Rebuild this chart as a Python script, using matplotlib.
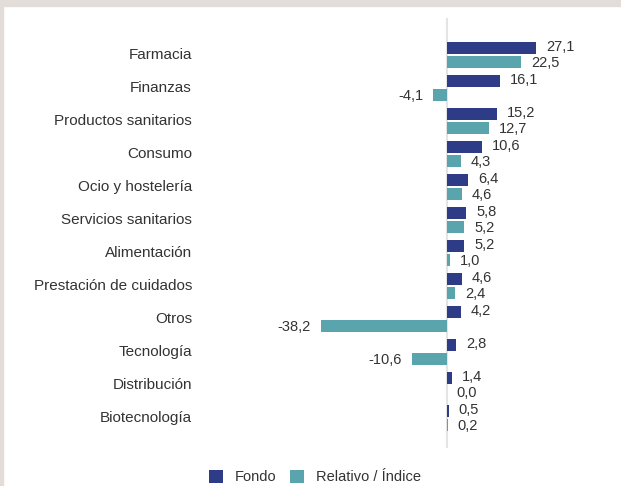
import matplotlib.pyplot as plt
from matplotlib.patches import Rectangle
import numpy as np

categorias = [
    "Farmacia", "Finanzas", "Productos sanitarios", "Consumo",
    "Ocio y hostelería", "Servicios sanitarios", "Alimentación",
    "Prestación de cuidados", "Otros", "Tecnología", "Distribución",
    "Biotecnología",
]
fondo = [27.1, 16.1, 15.2, 10.6, 6.4, 5.8, 5.2, 4.6, 4.2, 2.8, 1.4, 0.5]
relativo = [22.5, -4.1, 12.7, 4.3, 4.6, 5.2, 1.0, 2.4, -38.2, -10.6, 0.0, 0.2]

AZUL = "#2e3b87"
TURQUESA = "#5aa4ad"
TEXTO = "#333333"

plt.rcParams["font.family"] = ["Liberation Sans", "DejaVu Sans"]

fig = plt.figure(figsize=(6.21, 4.86), dpi=100)
fig.patch.set_facecolor("white")
# marco gris arriba y a la izquierda
fig.patches.append(Rectangle((0, 1 - 6 / 486), 1, 6 / 486, transform=fig.transFigure,
                             color="#e2ddd8", zorder=0))
fig.patches.append(Rectangle((0, 0), 3 / 621, 1, transform=fig.transFigure,
                             color="#e2ddd8", zorder=0))

ax = fig.add_axes([210 / 621, 38 / 486, 400 / 621, 430 / 486])
y = np.arange(len(categorias))
alto = 0.37
ax.barh(y - 0.21, fondo, height=alto, color=AZUL, label="Fondo", zorder=2)
ax.barh(y + 0.21, relativo, height=alto, color=TURQUESA, label="Relativo / Índice", zorder=2)

def etiqueta(v, pos):
    txt = f"{v:.1f}".replace(".", ",")
    if v < 0:
        ax.text(v - 3.0, pos, txt, ha="right", va="center", fontsize=10.5, color=TEXTO)
    else:
        ax.text(v + 3.0, pos, txt, ha="left", va="center", fontsize=10.5, color=TEXTO)

for i in range(len(categorias)):
    etiqueta(fondo[i], y[i] - 0.23)
    etiqueta(relativo[i], y[i] + 0.23)

ax.axvline(0, color="#e4e4e4", lw=1.5, zorder=1)
ax.set_xlim(-71.8, 49.4)
ax.set_ylim(11.91, -1.12)
ax.set_yticks(y - 0.03)
ax.set_yticklabels(categorias, fontsize=11, color=TEXTO)
ax.tick_params(axis="y", length=0, pad=13)
ax.set_xticks([])
for s in ax.spines.values():
    s.set_visible(False)

fig.legend(loc="center", bbox_to_anchor=(315 / 621, 1 - 477 / 486), ncol=2,
           frameon=False, fontsize=10.5, handlelength=1.0, handleheight=1.0,
           columnspacing=0.9, handletextpad=0.8, labelcolor=TEXTO)

fig.savefig("out.png", dpi=100)
